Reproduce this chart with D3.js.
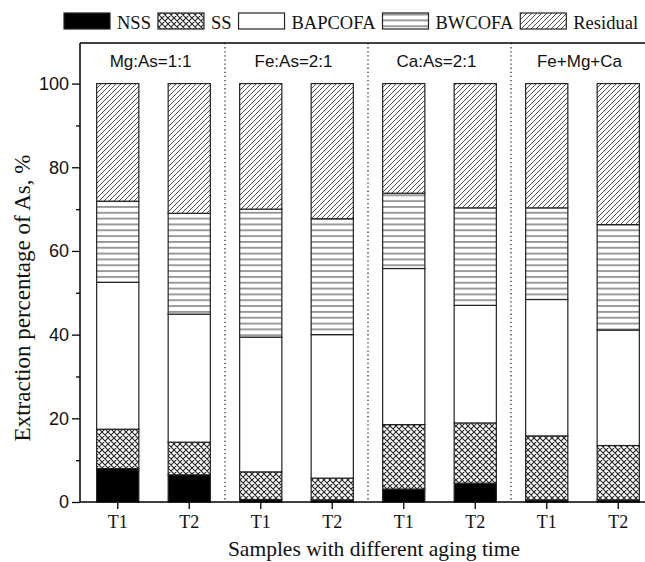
<!DOCTYPE html>
<html><head><meta charset="utf-8">
<script src="https://cdn.jsdelivr.net/npm/d3@7/dist/d3.min.js"></script>
<style>body{margin:0;background:#fff}svg{display:block}</style>
</head><body>
<svg id="c" width="645" height="562"></svg>
<script>
const categories = ["T1","T2","T1","T2","T1","T2","T1","T2"];
const groups = ["Mg:As=1:1","Fe:As=2:1","Ca:As=2:1","Fe+Mg+Ca"];
const seriesNames = ["NSS","SS","BAPCOFA","BWCOFA","Residual"];
const NSS      = [8.0, 6.5, 0.6, 0.5, 3.1, 4.5, 0.5, 0.5];
const SS       = [9.4, 7.8, 6.6, 5.2, 15.4, 14.4, 15.3, 13.0];
const BAPCOFA  = [35.1, 30.6, 32.2, 34.3, 37.3, 28.1, 32.6, 27.6];
const BWCOFA   = [19.4, 24.1, 30.6, 27.7, 18.0, 23.3, 21.9, 25.2];
const Residual = [28.1, 31.0, 30.0, 32.3, 26.2, 29.7, 29.7, 33.7];
const yMajorTicks = [0,20,40,60,80,100];
const yMinorTicks = [10,30,50,70,90];

const seriesValues = [NSS, SS, BAPCOFA, BWCOFA, Residual];
const rows = categories.map((c,i)=>{const r={i}; seriesNames.forEach((s,k)=>r[s]=seriesValues[k][i]); return r;});
const stacked = d3.stack().keys(seriesNames)(rows);

const svg = d3.select("#c");
const serif = "'Liberation Serif','Times New Roman',serif";
const sans = "'Liberation Sans',Arial,sans-serif";
const L=80, R=654, T=43, B=502;

const x = d3.scaleBand().domain(d3.range(categories.length)).range([82,654]).paddingInner(0.41).paddingOuter(0.205);
const y = d3.scaleLinear().domain([0,109.7]).range([B,T]);

// patterns
const defs = svg.append("defs");
const pc = "#3a3a3a";
const pHoriz = defs.append("pattern").attr("id","p-h").attr("patternUnits","userSpaceOnUse").attr("width",8).attr("height",5.83);
pHoriz.append("rect").attr("width",8).attr("height",5.83).attr("fill","#fff");
pHoriz.append("line").attr("x1",0).attr("x2",8).attr("y1",2.9).attr("y2",2.9).attr("stroke",pc).attr("stroke-width",1);
const pDiag = defs.append("pattern").attr("id","p-d").attr("patternUnits","userSpaceOnUse").attr("width",5).attr("height",5);
pDiag.append("rect").attr("width",5).attr("height",5).attr("fill","#fff");
pDiag.append("path").attr("d","M-1,1 L1,-1 M0,5 L5,0 M4,6 L6,4").attr("stroke",pc).attr("stroke-width",0.9);
const pCross = defs.append("pattern").attr("id","p-x").attr("patternUnits","userSpaceOnUse").attr("width",6).attr("height",6);
pCross.append("rect").attr("width",6).attr("height",6).attr("fill","#fff");
pCross.append("path").attr("d","M0,0 L6,6 M6,0 L0,6 M-1,5 L1,7 M5,-1 L7,1 M-1,1 L1,-1 M5,7 L7,5").attr("stroke","#222").attr("stroke-width",1.1);

const fills = {NSS:"#000", SS:"url(#p-x)", BAPCOFA:"#fff", BWCOFA:"url(#p-h)", Residual:"url(#p-d)"};

// bars
const gBars = svg.append("g");
stacked.forEach(layer=>{
  gBars.selectAll(null).data(layer).enter().append("rect")
    .attr("x",d=>x(d.data.i)).attr("width",x.bandwidth())
    .attr("y",d=>y(d[1])).attr("height",d=>y(d[0])-y(d[1]))
    .attr("fill",fills[layer.key]).attr("stroke","#222").attr("stroke-width",1.2);
});

// dividers
const step = x.step();
const divs = [1,3,5].map(i=> x(i)+x.bandwidth()+ (step-x.bandwidth())/2);
svg.selectAll(".dv").data(divs).enter().append("line")
  .attr("x1",d=>d).attr("x2",d=>d).attr("y1",T).attr("y2",B)
  .attr("stroke","#333").attr("stroke-width",1.3).attr("stroke-dasharray","1.3,2.8");

// group labels
svg.selectAll(".gl").data(groups).enter().append("text")
  .attr("x",(d,i)=> (x(2*i)+x(2*i+1)+x.bandwidth())/2 - 3)
  .attr("y",67).attr("text-anchor","middle").attr("font-family",sans).attr("font-size",17).attr("fill","#111").text(d=>d);

// frame/axes
svg.append("line").attr("x1",L).attr("x2",R).attr("y1",T).attr("y2",T).attr("stroke","#000").attr("stroke-width",1.3);
svg.append("line").attr("x1",L).attr("x2",R).attr("y1",B).attr("y2",B).attr("stroke","#000").attr("stroke-width",1.5);
svg.append("line").attr("x1",L).attr("x2",L).attr("y1",T).attr("y2",B).attr("stroke","#000").attr("stroke-width",1.5);

// y ticks
const yAxis = svg.append("g").attr("transform",`translate(${L},0)`)
  .call(d3.axisLeft(y).tickValues(yMajorTicks).tickSize(8).tickPadding(3).tickFormat(d3.format("d")));
yAxis.select(".domain").remove();
yAxis.selectAll("line").attr("stroke","#000").attr("stroke-width",1.3);
yAxis.selectAll("text").attr("font-family",sans).attr("font-size",18).attr("fill","#111");
const yMin = svg.append("g").attr("transform",`translate(${L},0)`)
  .call(d3.axisLeft(y).tickValues(yMinorTicks).tickSize(4).tickFormat(""));
yMin.select(".domain").remove();
yMin.selectAll("line").attr("stroke","#000").attr("stroke-width",1.3);

// x ticks
const xAxis = svg.append("g").attr("transform",`translate(0,${B})`)
  .call(d3.axisBottom(x).tickSize(7).tickPadding(6).tickFormat(i=>categories[i]));
xAxis.select(".domain").remove();
xAxis.selectAll("line").attr("stroke","#000").attr("stroke-width",1.3);
xAxis.selectAll("text").attr("font-family",serif).attr("font-size",18).attr("fill","#111");

// axis titles
svg.append("text").attr("x",374).attr("y",556).attr("text-anchor","middle")
  .attr("font-family",serif).attr("font-size",21.5).attr("fill","#111").text("Samples with different aging time");
svg.append("text").attr("transform","translate(30,298) rotate(-90)").attr("text-anchor","middle")
  .attr("font-family",serif).attr("font-size",23).attr("fill","#111").text("Extraction percentage of As, %");

// legend
const lg = svg.append("g");
let lx = 64;
seriesNames.forEach(s=>{
  lg.append("rect").attr("x",lx).attr("y",13).attr("width",46).attr("height",16)
    .attr("fill",fills[s]).attr("stroke","#222").attr("stroke-width",1.2);
  const t = lg.append("text").attr("x",lx+53).attr("y",29).attr("font-family",serif).attr("font-size",18.5).attr("fill","#111").text(s);
  lx = lx + 53 + t.node().getComputedTextLength() + 7;
});
</script>
</body></html>
